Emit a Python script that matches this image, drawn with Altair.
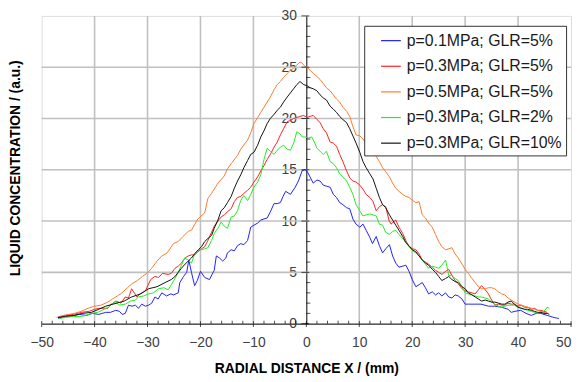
import altair as alt
import pandas as pd

# ---------------- data ----------------
series_names = [
    "p=0.1MPa; GLR=5%",
    "p=0.3MPa; GLR=5%",
    "p=0.5MPa; GLR=5%",
    "p=0.3MPa; GLR=2%",
    "p=0.3MPa; GLR=10%",
]
series_colors = ["#2020ff", "#ff2020", "#ff7a2a", "#20ee20", "#111111"]

blue_x = [-46.9, -45.4, -44.0, -42.9, -41.5, -40.4, -39.2, -37.9, -37.0, -36.0, -35.3, -34.8, -34.2, -33.6, -32.9,
          -32.3, -31.7, -31.1, -30.4, -29.8, -29.2, -28.6, -28.0, -27.3, -26.4, -25.6, -25.1, -24.2, -23.9, -23.2,
          -22.6, -22.2, -21.7, -21.1, -20.6, -20.0, -19.2, -18.3, -17.4, -17.0, -16.4, -15.8, -15.2, -14.9, -14.2,
          -13.6, -13.0, -12.4, -11.8, -11.1, -10.5, -9.9, -9.2, -8.6, -8.0, -7.4, -6.8, -6.1, -5.5, -4.9, -4.4,
          -3.9, -3.0, -2.1, -1.5, -0.8, -0.3, 0.1, 0.7, 1.3, 2.0, 2.6, 3.2, 3.8, 4.5, 5.1, 5.7, 6.3, 6.9, 7.6, 8.2,
          8.8, 9.4, 10.1, 10.7, 11.3, 12.0, 12.5, 13.2, 13.8, 14.4, 15.0, 15.7, 16.3, 16.9, 17.5, 18.2, 18.8, 19.4,
          20.0, 20.7, 21.3, 21.9, 22.5, 23.1, 23.8, 24.4, 25.0, 25.6, 26.3, 26.9, 27.5, 28.1, 28.7, 29.4, 30.0,
          30.6, 31.3, 31.9, 33.0, 34.4, 35.6, 36.9, 38.1, 38.7, 39.4, 40.5, 41.5, 42.5, 43.4, 44.3, 45.5, 46.8, 47.7]
blue_y = [0.5, 0.8, 0.8, 0.9, 0.8, 1.0, 0.9, 1.1, 1.1, 1.3, 1.2, 0.9, 1.0, 1.8, 1.7,
          1.8, 1.5, 1.9, 1.7, 1.8, 2.0, 2.6, 2.4, 3.0, 2.7, 2.9, 2.8, 3.0, 4.0, 4.6,
          5.0, 6.2, 5.0, 3.7, 4.2, 5.1, 4.5, 4.3, 5.2, 6.6, 6.4, 6.1, 6.4, 6.9, 7.2,
          7.1, 7.6, 7.8, 7.7, 8.1, 9.4, 9.6, 9.8, 10.1, 10.2, 10.3, 10.9, 11.7, 11.7, 11.8, 12.4,
          12.9, 12.6, 13.3, 13.9, 14.9, 15.0, 14.9, 14.3, 13.7, 14.0, 13.9, 13.5, 13.4, 13.3, 12.6, 12.3, 11.8, 11.6, 11.3, 11.2,
          10.2, 9.7, 9.4, 9.7, 9.1, 8.4, 7.8, 8.5, 7.6, 6.9, 7.3, 7.7, 6.6, 5.9, 5.5, 5.6, 5.7, 5.1,
          4.3, 3.6, 3.8, 4.0, 3.5, 2.9, 3.1, 2.8, 3.0, 2.7, 3.0, 2.6, 2.5, 2.8, 2.7, 2.4, 1.9,
          1.9, 1.9, 1.9, 1.9, 1.7, 1.7, 1.6, 1.4, 1.1, 1.2, 1.3, 1.0, 0.8, 1.0, 1.0, 0.8, 0.6, 0.5]

red_x = [-46.9, -45.5, -44.0, -42.5, -41.0, -40.0, -39.0, -37.5, -36.8, -36.0, -35.0, -34.2, -33.6, -33.0, -32.5,
         -32.0, -31.4, -30.4, -29.4, -28.6, -27.9, -27.2, -26.1, -25.5, -24.8, -24.2, -23.6, -22.9, -22.3, -21.7,
         -21.1, -20.5, -19.8, -19.2, -18.6, -18.0, -17.4, -16.7, -16.1, -15.5, -14.9, -14.2, -13.6, -13.0, -12.4,
         -11.8, -11.1, -10.5, -9.9, -9.2, -8.6, -8.0, -7.4, -6.8, -6.1, -5.5, -4.9, -4.3, -3.6, -3.0, -2.4, -1.8,
         -1.2, -0.5, 0.1, 0.7, 1.3, 2.0, 2.6, 3.2, 3.8, 4.5, 5.1, 5.7, 6.3, 6.9, 7.6, 8.2, 8.8, 9.4, 10.1, 10.7,
         11.3, 12.0, 12.6, 13.2, 13.8, 14.4, 15.0, 15.6, 16.0, 16.9, 17.5, 18.2, 18.8, 19.4, 20.1, 20.7, 21.3,
         21.9, 22.5, 23.1, 23.8, 24.4, 25.0, 25.6, 26.3, 26.9, 27.5, 28.1, 28.7, 29.4, 30.0, 30.6, 31.3, 31.9,
         32.5, 33.1, 33.8, 34.4, 35.0, 35.6, 36.3, 36.9, 37.5, 38.1, 38.7, 39.3, 40.0, 40.6, 41.2, 41.8, 42.5,
         43.1, 43.7, 44.3, 44.9, 45.5]
red_y = [0.6, 0.8, 0.9, 1.1, 1.2, 1.4, 1.5, 1.5, 1.9, 2.2, 2.0, 2.6, 2.5, 3.4, 3.0,
         2.6, 2.9, 3.2, 4.3, 4.6, 4.5, 4.9, 4.8, 4.9, 5.4, 5.6, 5.9, 6.4, 6.6, 6.7,
         6.7, 7.0, 7.3, 7.5, 8.1, 8.8, 9.5, 10.0, 10.4, 10.6, 10.9, 11.2, 11.9, 12.3, 12.4,
         12.7, 13.0, 13.3, 13.8, 14.3, 14.9, 15.4, 16.0, 16.5, 17.2, 17.7, 18.4, 19.0, 19.7, 19.8, 20.0, 20.1,
         20.2, 20.3, 20.1, 20.2, 20.3, 19.9, 19.6, 19.0, 18.6, 17.7, 17.6, 17.3, 16.5, 15.8, 14.9, 14.2, 13.9, 13.8, 13.5, 13.1,
         12.6, 12.3, 11.9, 11.0, 11.4, 11.6, 11.4, 10.1, 9.7, 10.1, 9.4, 8.8, 8.1, 7.5, 7.3, 7.2, 6.8,
         6.2, 6.0, 5.8, 5.5, 5.2, 5.0, 4.8, 5.1, 5.3, 4.7, 4.2, 3.9, 3.4, 3.2, 3.1, 3.0, 2.9,
         3.3, 3.7, 3.3, 2.9, 2.3, 1.8, 1.9, 1.8, 1.8, 2.0, 1.9, 1.9, 1.7, 1.8, 1.6, 1.6, 1.4,
         1.5, 1.3, 1.3, 1.2, 1.1]

orange_x = [-47.2, -46.0, -44.8, -43.8, -42.5, -41.2, -40.0, -38.8, -37.5, -36.6, -35.7, -34.8, -33.8, -32.9,
            -31.9, -31.0, -30.1, -29.2, -28.2, -27.3, -26.3, -25.1, -24.2, -23.3, -22.3, -21.7, -20.5, -19.2,
            -18.6, -17.9, -16.7, -15.5, -14.9, -14.2, -13.0, -12.4, -11.1, -10.5, -9.9, -9.3, -8.6, -8.0, -7.4,
            -6.8, -6.1, -5.5, -4.9, -4.3, -3.6, -3.0, -2.4, -1.8, -1.2, -0.8, -0.3, 0.1, 0.7, 1.3, 2.0, 2.6, 3.2,
            3.8, 4.5, 5.1, 5.7, 6.3, 6.9, 7.6, 8.2, 8.8, 9.4, 10.1, 10.7, 11.3, 12.0, 12.6, 13.2, 13.8, 14.4, 15.0,
            15.7, 16.3, 16.9, 17.5, 18.2, 18.8, 19.4, 20.1, 20.7, 21.3, 21.9, 22.5, 23.1, 23.8, 24.4, 25.0, 25.6,
            26.3, 26.9, 27.5, 28.1, 28.7, 29.4, 30.0, 30.6, 31.3, 31.9, 32.5, 33.1, 33.8, 34.4, 35.0, 35.6, 36.3,
            36.9, 37.5, 38.1, 38.7, 39.3, 40.0, 40.6, 41.2, 41.8, 42.5, 43.1, 43.7, 44.3, 44.9, 45.5]
orange_y = [0.6, 0.8, 0.9, 1.0, 1.2, 1.5, 1.7, 1.8, 2.1, 2.4, 2.7, 3.0, 3.5, 3.9,
            4.2, 4.6, 4.9, 5.4, 6.1, 6.6, 6.9, 7.8, 8.0, 8.5, 9.0, 9.1, 10.2, 10.8,
            12.2, 12.7, 13.7, 14.4, 15.1, 15.6, 16.4, 17.0, 17.9, 18.6, 19.5, 20.0, 20.6, 21.1, 21.6,
            22.1, 22.8, 23.3, 23.6, 24.0, 24.4, 24.7, 24.9, 25.2, 25.5, 25.4, 25.1, 25.0, 24.7, 24.4, 24.1, 23.8, 23.4,
            23.0, 22.7, 22.3, 21.9, 21.6, 21.1, 20.7, 20.2, 19.2, 18.4, 18.3, 18.0, 17.5, 17.0, 16.8, 16.3, 15.8, 15.2, 14.8,
            14.3, 13.7, 13.2, 12.9, 12.6, 12.4, 12.3, 12.0, 11.8, 11.9, 10.6, 10.3, 9.8, 9.4, 8.7, 8.0, 7.5,
            7.2, 7.3, 7.4, 6.8, 6.4, 5.8, 5.3, 4.9, 4.4, 4.0, 3.6, 3.4, 3.4, 3.5, 3.5, 3.4, 3.1,
            2.9, 2.8, 2.5, 2.3, 2.1, 1.9, 1.8, 1.7, 1.6, 1.5, 1.4, 1.3, 1.2, 1.1, 1.0]

green_x = [-46.6, -45.5, -44.0, -42.5, -41.7, -40.6, -39.4, -38.2, -37.3, -36.9, -36.0, -35.4, -34.2, -33.2,
           -32.3, -31.7, -30.7, -29.8, -28.9, -27.9, -26.9, -26.1, -25.5, -24.8, -24.2, -23.6, -23.0, -22.3,
           -21.7, -21.1, -20.4, -19.8, -19.2, -18.6, -17.9, -17.4, -16.7, -16.1, -15.5, -14.9, -14.2, -13.6,
           -13.0, -12.4, -11.8, -11.1, -10.5, -9.9, -9.2, -8.6, -8.0, -7.4, -6.8, -6.1, -5.5, -4.9, -4.3, -3.6,
           -3.0, -2.4, -1.8, -1.2, -0.8, -0.3, 0.4, 1.0, 1.6, 2.0, 2.6, 3.2, 3.8, 4.5, 5.1, 5.7, 6.3, 6.9, 7.6,
           8.2, 8.8, 9.4, 10.1, 10.7, 11.3, 12.0, 12.6, 13.2, 13.8, 14.4, 15.0, 15.7, 16.3, 16.9, 17.5, 18.2,
           18.8, 19.4, 20.1, 20.7, 21.3, 21.9, 22.5, 23.1, 23.8, 24.4, 25.0, 25.6, 26.3, 26.9, 27.5, 28.1, 28.7,
           29.4, 30.0, 30.6, 31.3, 31.9, 32.5, 33.1, 33.8, 34.4, 35.0, 35.6, 36.3, 36.9, 37.5, 38.1, 38.7, 39.3,
           40.0, 40.6, 41.2, 41.8, 42.5, 43.1, 43.7, 44.3, 44.9, 45.5, 45.9]
green_y = [0.5, 0.6, 0.7, 0.7, 0.8, 1.0, 1.1, 1.4, 1.6, 1.9, 2.1, 1.8, 1.9, 2.2,
           2.3, 2.6, 2.7, 2.9, 3.0, 3.4, 3.5, 3.3, 3.8, 4.4, 5.0, 5.7, 6.4, 6.2,
           5.9, 6.8, 7.2, 7.2, 7.3, 7.4, 8.1, 8.8, 9.3, 9.9, 9.5, 9.3, 10.4, 10.5,
           11.0, 12.0, 12.5, 12.0, 12.6, 13.3, 13.8, 14.5, 16.0, 17.1, 16.8, 16.5, 16.9, 17.2, 17.4, 17.0,
           16.9, 17.6, 18.7, 18.5, 18.2, 18.2, 18.1, 18.2, 17.6, 17.1, 16.8, 16.5, 16.8, 15.8, 15.6, 15.2, 14.6, 14.3, 13.9,
           13.3, 12.6, 11.6, 11.0, 10.5, 10.6, 10.7, 10.6, 10.5, 9.7, 9.6, 8.9, 8.7, 9.0, 9.1, 8.7, 8.3,
           7.9, 7.5, 7.1, 6.9, 6.6, 6.2, 5.8, 5.4, 5.6, 5.5, 5.4, 5.7, 6.2, 4.7, 4.7, 4.4, 4.2,
           3.6, 3.0, 2.9, 2.8, 2.7, 2.6, 2.6, 2.5, 2.4, 2.1, 1.9, 1.7, 1.6, 1.7, 1.8, 1.8, 1.8,
           1.6, 1.5, 1.4, 1.3, 1.2, 1.1, 1.0, 1.1, 1.2, 1.6, 1.5]

black_x = [-46.9, -45.5, -43.8, -42.3, -40.6, -39.2, -37.9, -36.5, -34.4, -33.0, -31.3, -29.8, -28.2, -26.7,
           -25.5, -24.8, -24.2, -23.6, -22.9, -22.3, -21.7, -21.1, -20.4, -19.8, -19.2, -18.6, -17.9, -17.4,
           -16.7, -16.1, -15.5, -14.9, -14.2, -13.6, -13.0, -12.4, -11.8, -11.1, -10.5, -9.9, -9.2, -8.6, -8.0,
           -7.4, -6.8, -6.1, -5.5, -4.9, -4.3, -3.6, -3.0, -2.4, -1.8, -1.2, -0.5, 0.1, 0.7, 1.3, 2.0, 2.6, 3.2,
           3.8, 4.5, 5.1, 5.7, 6.3, 6.9, 7.6, 8.2, 8.8, 9.4, 10.1, 10.7, 11.3, 12.0, 12.6, 13.2, 13.8, 14.4, 15.0,
           15.7, 16.3, 16.9, 17.5, 18.2, 18.8, 19.4, 20.0, 20.7, 21.3, 21.9, 22.5, 23.1, 23.8, 24.4, 25.0, 25.6,
           26.3, 26.9, 27.5, 28.1, 28.7, 29.4, 30.0, 30.6, 31.3, 31.9, 32.5, 33.1, 33.8, 34.4, 35.0, 35.6, 36.3,
           36.9, 37.5, 38.1, 38.7, 39.3, 40.0, 40.6, 41.2, 41.8, 42.5, 43.1, 43.7, 44.3, 44.9, 45.5, 45.9]
black_y = [0.6, 0.7, 0.8, 1.0, 1.1, 1.4, 1.7, 1.9, 2.2, 2.6, 2.9, 3.4, 3.6, 4.0,
           4.3, 4.6, 5.0, 5.4, 5.8, 6.1, 6.4, 6.8, 7.2, 7.5, 8.0, 8.3, 8.6, 9.3,
           10.1, 11.0, 11.3, 11.8, 12.4, 13.2, 13.9, 14.5, 15.2, 15.9, 16.5, 16.7, 17.4, 18.2, 18.8,
           19.5, 20.0, 20.4, 20.8, 21.1, 21.6, 22.1, 22.5, 22.9, 23.3, 23.6, 23.3, 23.2, 23.0, 22.9, 22.7, 22.3, 22.0,
           21.8, 21.2, 20.9, 20.6, 20.2, 19.9, 19.6, 19.0, 18.3, 17.6, 16.7, 15.8, 15.2, 14.6, 14.1, 13.2, 12.3, 11.6, 11.3,
           10.6, 10.1, 9.6, 9.1, 8.5, 7.9, 7.6, 7.2, 7.0, 6.6, 6.2, 5.9, 5.7, 5.3, 5.0, 4.6, 4.2,
           4.4, 4.6, 4.3, 4.1, 4.0, 3.6, 3.4, 3.0, 2.8, 2.6, 2.4, 2.2, 2.3, 2.2, 2.1, 2.1, 2.0,
           1.9, 1.9, 2.1, 2.2, 1.9, 1.6, 1.5, 1.4, 1.4, 1.3, 1.2, 1.1, 1.1, 1.0, 1.0, 0.9]

# axis tick / grid values
x_major = [-50, -40, -30, -20, -10, 0, 10, 20, 30, 40, 50]
x_minor = [v for v in range(-48, 50, 2) if v % 10 != 0]
y_major = [0, 5, 10, 15, 20, 25, 30]
y_minor = [v for v in range(1, 30) if v % 5 != 0]
x_grid = [-40, -30, -20, -10, 10, 20, 30, 40]
y_grid = [5, 10, 15, 20, 25]

x_title = "RADIAL DISTANCE X / (mm)"
y_title = "LIQUID CONCENTRATION / (a.u.)"

# ---------------- build tables ----------------
frames = []
for name, xs, ys in [
    (series_names[0], blue_x, blue_y),
    (series_names[1], red_x, red_y),
    (series_names[2], orange_x, orange_y),
    (series_names[3], green_x, green_y),
    (series_names[4], black_x, black_y),
]:
    frames.append(pd.DataFrame({"x": xs, "y": ys, "series": name, "order": range(len(xs))}))
df = pd.concat(frames, ignore_index=True)

gxdf = pd.DataFrame({"gx": x_grid, "y0": 0, "y1": 30})
gydf = pd.DataFrame({"gy": y_grid, "x0": -50, "x1": 50})

FONT = "Liberation Sans"
W, H = 535, 311
GRID = "#c0c0c0"

xscale = alt.Scale(domain=[-50, 50], nice=False, zero=False)
yscale = alt.Scale(domain=[0, 30], nice=False, zero=False)

gx = alt.Chart(gxdf).mark_rule(color=GRID, strokeWidth=1.6, opacity=1).encode(
    x=alt.X("gx:Q", scale=xscale, axis=None),
    y=alt.Y("y0:Q", scale=yscale, axis=None),
    y2="y1:Q",
)
gy = alt.Chart(gydf).mark_rule(color=GRID, strokeWidth=1.6, opacity=1).encode(
    y=alt.Y("gy:Q", scale=yscale, axis=None),
    x=alt.X("x0:Q", scale=xscale, axis=None),
    x2="x1:Q",
)

lines = alt.Chart(df).mark_line(strokeWidth=1, clip=True).encode(
    x=alt.X("x:Q", scale=xscale,
            axis=alt.Axis(values=x_major, title=x_title, grid=False, ticks=False,
                          domain=True, domainColor="#000000", domainWidth=1,
                          labelFont=FONT, labelFontSize=14, labelColor="#404040",
                          labelPadding=12, labelFlush=False,
                          labelAlign={"expr": "datum.value == 50 ? 'right' : 'center'"},
                          titleFont=FONT, titleFontSize=14, titleFontWeight="bold",
                          titleColor="#000000", titleY=38, titleBaseline="top")),
    y=alt.Y("y:Q", scale=yscale,
            axis=alt.Axis(values=y_major, title=y_title, grid=False, ticks=False,
                          offset=-267.5, domain=True, domainColor="#000000", domainWidth=1,
                          labelFont=FONT, labelFontSize=14, labelColor="#404040",
                          labelPadding=10,
                          titleFont=FONT, titleFontSize=14, titleFontWeight="bold",
                          titleColor="#000000", titleX=-293.5, titleY=153.5,
                          titleAngle=270, titleBaseline="middle", titleAlign="center")),
    color=alt.Color("series:N",
                    scale=alt.Scale(domain=series_names, range=series_colors),
                    legend=alt.Legend(title=None, orient="none", legendX=326, legendY=10,
                                      fillColor="#ffffff", strokeColor="#333333",
                                      padding=4, symbolOffset=12,
                                      symbolType="stroke", symbolSize=400, symbolStrokeWidth=1.2,
                                      labelFont=FONT, labelFontSize=16, labelColor="#1a1a1a",
                                      labelOffset=5, rowPadding=6.9, labelLimit=300)),
    order="order:Q",
)

xmaj = alt.Chart(pd.DataFrame({"v": x_major})).mark_tick(
    orient="vertical", size=6, thickness=1, color="#000000", yOffset=0.5
).encode(x=alt.X("v:Q", scale=xscale, axis=None), y=alt.datum(0, scale=yscale, axis=None))

xmin = alt.Chart(pd.DataFrame({"v": x_minor})).mark_tick(
    orient="vertical", size=3, thickness=1, color="#000000", yOffset=-1.5
).encode(x=alt.X("v:Q", scale=xscale, axis=None), y=alt.datum(0, scale=yscale, axis=None))

ymaj = alt.Chart(pd.DataFrame({"v": y_major})).mark_tick(
    orient="horizontal", size=8, thickness=1, color="#000000", xOffset=-1
).encode(y=alt.Y("v:Q", scale=yscale, axis=None), x=alt.datum(0, scale=xscale, axis=None))

ymin = alt.Chart(pd.DataFrame({"v": y_minor})).mark_tick(
    orient="horizontal", size=4, thickness=1, color="#000000", xOffset=2
).encode(y=alt.Y("v:Q", scale=yscale, axis=None), x=alt.datum(0, scale=xscale, axis=None))

chart = alt.layer(gx, gy, lines, xmaj, xmin, ymaj, ymin).resolve_axis(
    x="independent", y="independent"
).properties(
    width=W, height=H,
    autosize=alt.AutoSizeParams(type="none"),
    padding={"left": 34, "top": 6, "right": 2, "bottom": 57},
).configure_view(
    stroke="#9a9a9a", strokeWidth=1
).configure(background="#ffffff")

chart.save("out.html", embed_options={"renderer": "svg", "actions": False})
